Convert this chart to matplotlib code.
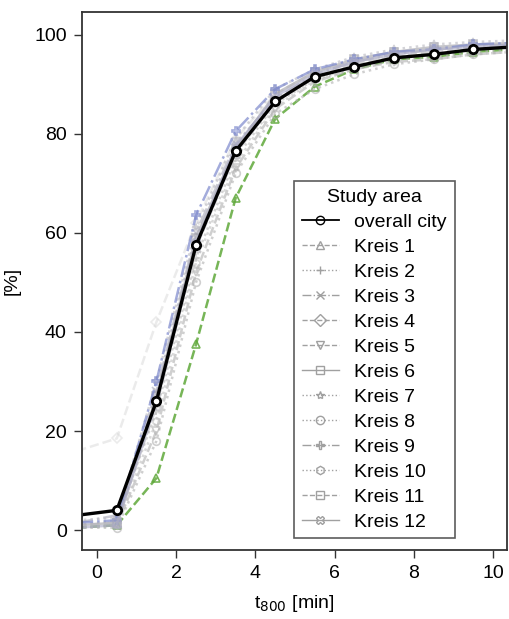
import numpy as np
import matplotlib.pyplot as plt
from matplotlib.lines import Line2D

plt.rcParams['font.family'] = ['Liberation Sans', 'DejaVu Sans']

# travel time bins [min]
t_mid = [-0.5, 0.5, 1.5, 2.5, 3.5, 4.5, 5.5, 6.5, 7.5, 8.5, 9.5, 10.5]

overall = [3.0, 4.0, 26.0, 57.5, 76.5, 86.5, 91.5, 93.5, 95.3, 96.0, 97.0, 97.5]

kreis_names = ["Kreis %d" % i for i in range(1, 13)]
kreis_values = [
    [0.5, 1.0, 10.5, 37.5, 67.0, 83.0, 89.5, 93.0, 95.0, 95.5, 96.5, 97.0],
    [1.0, 2.0, 24.0, 55.0, 75.0, 86.0, 91.0, 93.0, 95.0, 95.5, 96.5, 97.0],
    [1.5, 3.0, 28.0, 60.0, 78.0, 87.0, 92.0, 94.5, 96.0, 97.0, 97.5, 98.0],
    [16.0, 18.5, 42.0, 62.0, 79.0, 88.0, 92.5, 94.5, 96.0, 97.0, 97.8, 98.0],
    [0.5, 1.0, 20.0, 52.0, 73.0, 85.0, 90.5, 93.0, 94.5, 95.0, 96.0, 96.5],
    [1.0, 1.5, 27.0, 59.0, 77.0, 88.0, 92.5, 95.0, 96.5, 97.5, 98.0, 98.3],
    [2.0, 2.5, 30.0, 61.0, 79.0, 89.0, 93.0, 95.5, 97.0, 98.0, 98.5, 98.8],
    [0.5, 0.5, 18.0, 50.0, 72.0, 84.0, 89.0, 92.0, 94.0, 95.0, 96.0, 96.5],
    [1.5, 2.0, 30.0, 63.5, 80.5, 89.0, 93.0, 95.0, 96.5, 97.0, 98.0, 98.3],
    [0.5, 1.0, 22.0, 54.0, 74.0, 85.5, 91.0, 93.5, 95.5, 96.0, 97.0, 97.5],
    [1.0, 1.5, 25.0, 57.0, 76.0, 86.5, 91.5, 94.0, 95.5, 96.5, 97.0, 97.5],
    [0.5, 1.0, 26.0, 58.0, 77.5, 87.5, 92.0, 94.5, 96.0, 97.0, 97.5, 98.0],
]

markers = ['^', '+', 'x', 'D', 'v', 's', '*', 'o', 'P', 'h', 's', 'X']
styles = ['--', ':', '-.', '--', '--', '-', ':', ':', '-.', ':', '--', '-']
colors = ['#5fa83a', '#b8b8b8', '#a8a8b8', '#d4d4d4', '#b0b0b0', '#a0a0a8',
          '#b8b8c0', '#b0b0b0', '#7c88cc', '#c0c0c0', '#b4b4bc', '#a8a8c4']
alphas = [0.85, 0.6, 0.6, 0.45, 0.6, 0.6, 0.6, 0.6, 0.7, 0.6, 0.6, 0.6]

fig = plt.figure(figsize=(5.09, 6.19), dpi=100)
ax = fig.add_axes([0.161, 0.1115, 0.835, 0.8695])

for vals, m, ls, c, a in zip(kreis_values, markers, styles, colors, alphas):
    ax.plot(t_mid, vals, linestyle=ls, marker=m, color=c, linewidth=1.8,
            markersize=5.5, markerfacecolor='none', markeredgewidth=1.2, alpha=a)

ax.plot(t_mid, overall, '-', marker='o', color='black', linewidth=2.4,
        markersize=6, markerfacecolor='white', markeredgewidth=2)

ax.set_xlim(-0.38, 10.35)
ax.set_ylim(-4, 104.6)
ax.set_xticks([0, 2, 4, 6, 8, 10])
ax.set_yticks([0, 20, 40, 60, 80, 100])
ax.tick_params(labelsize=14, length=6, width=1, color='#333333', pad=5)
for s in ax.spines.values():
    s.set_color('#333333')
    s.set_linewidth(1.3)

ax.set_xlabel("t$_{800}$ [min]", fontsize=14, labelpad=8)
ax.set_ylabel("[%]", fontsize=14, labelpad=10)

# legend shows the Kreise in gray
handles = [Line2D([], [], color='black', marker='o', markerfacecolor='none',
                  markersize=6, linewidth=1.3)]
for m, ls in zip(markers, styles):
    handles.append(Line2D([], [], color='#a0a0a0', linestyle=ls, marker=m,
                          markerfacecolor='none', markersize=6, linewidth=1.0))
leg = ax.legend(handles, ["overall city"] + kreis_names, title="Study area",
                loc='upper left', bbox_to_anchor=(0.499, 0.686), fontsize=14,
                title_fontsize=14, frameon=True, fancybox=False,
                edgecolor='#333333', handlelength=1.9, handletextpad=0.8,
                labelspacing=0.38, borderaxespad=0)
leg.get_frame().set_linewidth(1.2)

fig.savefig("out.png", dpi=100)
